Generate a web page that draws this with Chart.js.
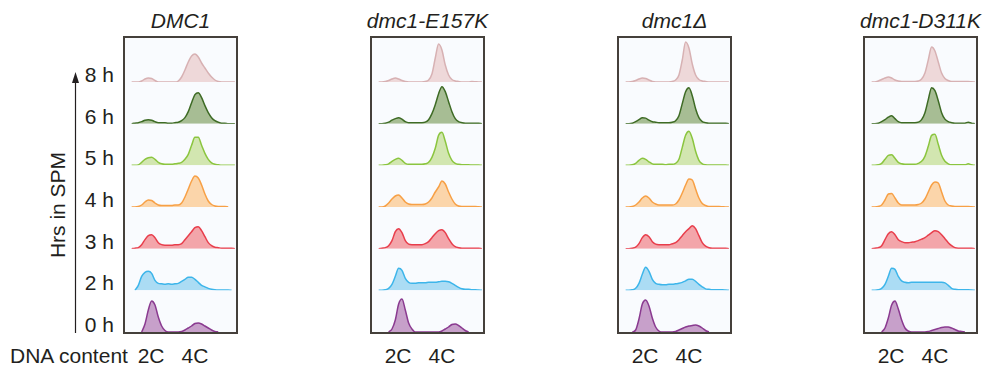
<!DOCTYPE html>
<html>
<head>
<meta charset="utf-8">
<script src="https://cdn.jsdelivr.net/npm/chart.js@4.4.1/dist/chart.umd.min.js"></script>
<style>
  body { margin: 0; width: 984px; height: 374px; background: #fff; position: relative; overflow: hidden;
         font-family: "Liberation Sans", Arial, sans-serif; color: #231f20; }
  .t { position: absolute; font-size: 21px; line-height: 21px; white-space: nowrap; }
  .title { font-style: italic; transform: translateX(-50%); }
  .mid { transform: translateX(-50%); }
  .row { text-align: right; width: 40px; }
  .frame { position: absolute; top: 36px; width: 111px; height: 294px; border: 2px solid #45403b; background: #f9fbfe; }
  .frame canvas { display: block; }
</style>
</head>
<body>
<svg style="position:absolute;left:0;top:0" width="984" height="374">
  <line x1="75.5" y1="333" x2="75.5" y2="80" stroke="#231f20" stroke-width="1.2"/>
  <polygon points="75.5,72 72,83 79,83" fill="#231f20"/>
</svg>
<div class="t" style="left:57px;top:205px;transform:translate(-50%,-50%) rotate(-90deg);">Hrs in SPM</div>
<div id="labels"></div>
<div class="frame" style="left:123px"><canvas id="c0" width="111" height="294"></canvas></div>
<div class="frame" style="left:370px"><canvas id="c1" width="111" height="294"></canvas></div>
<div class="frame" style="left:617px"><canvas id="c2" width="111" height="294"></canvas></div>
<div class="frame" style="left:863px"><canvas id="c3" width="111" height="294"></canvas></div>
<div class="t" style="left:10px;top:345px">DNA content</div>
<script>
// DNA content channel (0-100 across the frame)
const XS = [6, 9, 12, 15, 18, 21, 24, 27, 30, 33, 36, 39, 42, 45, 48, 51,
            54, 57, 60, 63, 66, 69, 72, 75, 78, 81, 84, 87, 90, 93, 96, 99];
const ROWS = ['8 h', '6 h', '5 h', '4 h', '3 h', '2 h', '0 h'];
const LINE_COLORS = ['#d7b1b3', '#3e6b25', '#8bc53f', '#f7a046', '#e83e4c', '#3db5ea', '#8a3a90'];
const FILL_COLORS = ['#eed8d9', '#a7bd94', '#d2e6b0', '#fbd5aa', '#f3a5aa', '#abdcf4', '#c7a0ca'];
const PANELS = ['DMC1', 'dmc1-E157K', 'dmc1Δ', 'dmc1-D311K'];
const PLOIDY_TICKS = [23.5, 63];
const PLOIDY_LABELS = ['2C', '4C'];

// histogram heights (px above each row's baseline), rows top -> bottom
const DMC1 = [
  [0,0,0,1,3,4,3.5,1.5,0,0,0,0,0,0,1,5,12,20,26,28,25,19,14,9,5,2,0.5,0,0,0,0,0],
  [0,0.5,1,2,3.5,4,3.5,2,1,1,1,0.5,0.5,1,1.5,3,6,12,21,29,31,26,18,11,6,3,1.5,0.5,0.5,0,0,0],
  [0,0,0.5,3,6,7.5,8,6,3,1.5,1,1,1,1.5,2,3,6,11,20,28,28,20,12,6,2.5,1,0.5,0,0,0,0,0],
  [0,0,0.5,2,5,7,6.5,4,2,1.5,1.5,1.5,1.5,2,2,4,10,18,26,31,29,22,13,6,2.5,1,0.5,0.5,0.5,0,null,null],
  [0,0.5,1,4,9,13,14,11,6,4,3.5,3.5,3.5,4,4,5,9,13,17,21,22,18,12,6,3,1.5,1,0.5,0.5,0.5,0.5,0],
  [null,0,5,14,18,19,17,10,7,6.5,6,6.5,6,6.5,7,9,11,13,13,11,8,5,3.5,2,1,0.5,0.3,0.3,0.3,0.3,0,null],
  [null,null,null,0,8,22,31,27,15,6,1.5,0,0,0,0,0.5,2,4,6,8.5,9,8,6,4,2,0.5,0,null,null,null,null,null]
];
const E157K = [
  [0,0,0.5,1.5,3,4,3,1.5,0.5,0,0,0,0,0,0.5,2,8,24,38,32,17,7,2.5,1,0.5,0,0,0,0.5,0.3,0,0],
  [0,0,0.5,1.5,3.5,5,6,4.5,2,1,1,1,1,1,1.5,4,10,19,30,37,32,22,12,5,2,1,0.5,0.5,0.5,0.5,0.3,0],
  [0,0,0.5,1.5,4,6,7,5,2,1,1,1,1,1,1.5,3,8,17,30,33,24,12,5,2,1,0.5,0.5,0.5,0.3,0.3,0.3,0],
  [0,0,1,4,8,11,12,9,5,3,2.5,2.5,2.5,2.5,3,5,9,15,20,26,23,15,8,3,1,0.5,0.5,0.5,0.5,0.5,0.3,0],
  [0,0.5,1,3,8,17,20,16,8,4.5,4,4,4,4,5,7,11,15,18,19,16,10,5,2,1,0.5,0.5,0.5,0.5,0.5,0.3,0],
  [0,0,0.5,2,6,14,22,20,12,8,7,7,7.5,7.5,7.5,8,8,8,8.5,9,9,8.5,7,5,3,1.5,1,1,0.5,0.5,0.3,0],
  [null,null,null,0,3,12,28,33,22,9,3,0,0,0,0,0,0,0,0,1,3,5,7.5,8,6.5,4,1.5,0,null,null,null,null]
];
const DELTA = [
  [0,0,0.5,1.5,3,4,3.5,2,0.5,0,0,0,0,0,0.5,2,7,22,40,34,18,7,2.5,1,0.5,0,0,0,0,0,0,0],
  [0,0,0.5,2,4,6,5.5,3.5,2,1.5,1,1,1,1,1.5,3,8,20,32,36,28,15,6,2,1,0.5,0.5,0.5,0.5,0.5,0.3,0],
  [0,0,0.5,2,5,7,6,3.5,1.5,1,1,1,0.5,1,1,2,6,18,30,34,27,14,5,1.5,0.5,0.3,0.3,0.3,0.3,0.3,0.3,0],
  [0,0,0.5,2,5,9,11,9,5,3,2,2,2,2,2,3,7,14,22,28,27,18,9,3.5,1.5,0.5,0.5,0.5,0.5,0.3,0,0],
  [0,0,0.5,1.5,5,11,14,12,7,4.5,4,4,4,4,5,6,9,13,17,20,23,20,13,6,2.5,1,0.5,0.5,0.5,0.5,0.3,0],
  [0,0,0.5,2,7,16,23,19,11,7,6,5.5,5.5,6,6,6.5,7,8,9.5,11,11,9,6,3.5,1.5,1,0.5,0.5,0.5,0.5,0.3,0],
  [null,null,0,2,13,28,32,26,14,5,1,0,0,0,0,0.5,2,3.5,5,6,6.5,7,6,4,1.5,0,null,null,null,null,null,null]
];
const D311K = [
  [0,0,1,2.5,4,5,4,2,1,0.5,0.5,0.5,0.5,0.5,1,3,9,22,35,31,20,9,3.5,1.5,0.5,0.5,0.5,0.5,0.5,0.5,0.3,0],
  [0,0,0.5,2,4,6.5,8,5,2,1,1,1,1,1,1.5,4,11,24,36,33,23,11,4.5,2,1,0.5,0.5,0.5,0.5,1.5,0.5,0],
  [0,0,0.5,2,6,10,10.5,7,3,1.5,1,1,1,1,2,4,9,19,30,31,21,10,4,1.5,0.5,0.5,0.5,0.5,0.5,1.5,0.5,0],
  [0,0,0.5,2,7,13,13.5,9,4,2,2,2,2,2,2.5,4,8,15,22,25,24,15,6,2,1,0.5,0.5,0.5,0.5,0.5,0.3,0],
  [0,0.5,1,3,9,15,17,14,9,7,6,6,6.5,7,8,9.5,11,13.5,16,18,17,14,10,6,3,1,0.5,0.5,0.5,0.5,0.3,0],
  [0,0,0.5,2,6,14,22,21,14,9.5,8,7.5,8,8,8,8,8,8,8,8,8,8,7.5,5,2,1,0.5,0.5,0.5,0.5,0.3,0],
  [null,null,null,0,4,14,27,31,23,12,4,1,0,0,0,0,0,0.5,1.5,2.5,3.5,4.5,5,5,4,2.5,1,0.5,0,null,null,null]
];

const ROW_HEIGHTS = [44, 41.67, 41.67, 41.67, 41.67, 41.67, 41.67];
const FRAME_LEFTS = [123, 370, 617, 863];
const FRAME_INNER_TOP = 38, FRAME_INNER_W = 111;

const charts = {};

function renderPanel(canvasId, rows) {
  const scales = { x: { type: 'linear', min: 0, max: 100, display: false } };
  const datasets = [];
  ROWS.forEach((label, i) => {
    scales['r' + i] = {
      type: 'linear', position: 'left', stack: 'rows',
      stackWeight: ROW_HEIGHTS[i], weight: ROWS.length - i,
      min: 0, max: ROW_HEIGHTS[i], display: false
    };
    datasets.push({
      label: label,
      yAxisID: 'r' + i,
      data: XS.map((x, j) => ({ x: x, y: rows[i][j] })),
      borderColor: LINE_COLORS[i],
      backgroundColor: FILL_COLORS[i],
      borderWidth: 1.5,
      fill: 'origin',
      pointRadius: 0,
      cubicInterpolationMode: 'monotone'
    });
  });
  charts[canvasId] = new Chart(document.getElementById(canvasId), {
    type: 'line',
    data: { datasets: datasets },
    options: {
      responsive: false,
      animation: false,
      layout: { padding: 0 },
      plugins: { legend: { display: false }, tooltip: { enabled: false } },
      scales: scales
    }
  });
}

[DMC1, E157K, DELTA, D311K].forEach((rows, p) => renderPanel('c' + p, rows));

// text labels: titles, row labels, 2C/4C under each frame
const box = document.getElementById('labels');
function addText(cls, text, left, top) {
  const d = document.createElement('div');
  d.className = 't ' + cls;
  d.textContent = text;
  d.style.left = left + 'px';
  d.style.top = top + 'px';
  box.appendChild(d);
}
PANELS.forEach((name, p) => {
  const inner = FRAME_LEFTS[p] + 2;
  addText('title', name, inner + FRAME_INNER_W / 2, 10);
  PLOIDY_TICKS.forEach((v, k) => {
    const px = charts['c' + p].scales.x.getPixelForValue(v);
    addText('mid', PLOIDY_LABELS[k], inner + px, 345);
  });
});
ROWS.forEach((label, i) => {
  const sc = charts.c0.scales['r' + i];
  addText('row', label, 74, FRAME_INNER_TOP + sc.bottom - 18);
});
</script>
</body>
</html>
